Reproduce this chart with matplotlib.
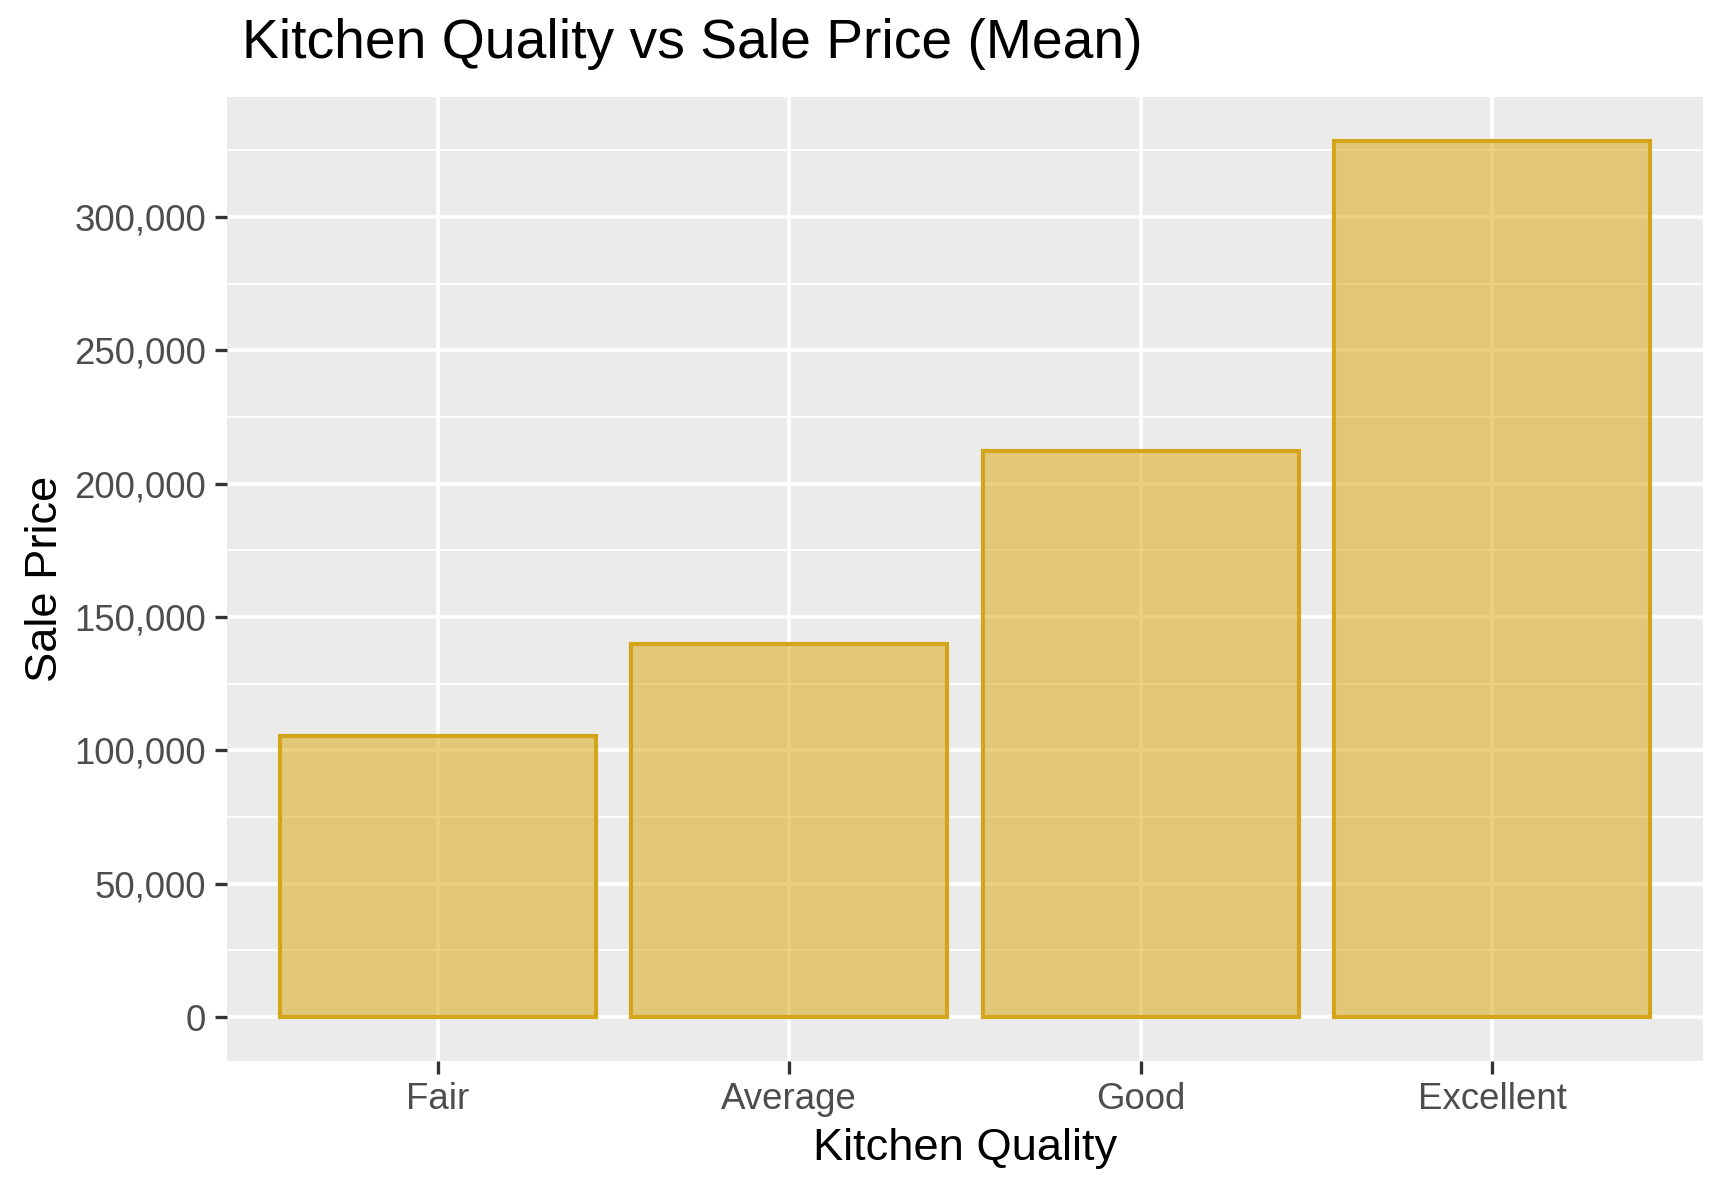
import matplotlib
matplotlib.use("Agg")
import matplotlib.pyplot as plt
from matplotlib.ticker import FuncFormatter, MultipleLocator

plt.rcParams['font.family'] = ['Liberation Sans', 'DejaVu Sans']

# mean sale price per kitchen quality
quality = ['Fair', 'Average', 'Good', 'Excellent']
mean_price = [105565, 139963, 212116, 328555]

fig = plt.figure(figsize=(8.64, 5.965), dpi=200)
ax = fig.add_axes([227 / 1728, 1 - 1061 / 1193, (1703 - 227) / 1728, (1061 - 97) / 1193])

ax.set_facecolor('#EBEBEB')
x = list(range(1, len(quality) + 1))
ax.bar(x, mean_price, width=0.9, color='#DBAB1A', alpha=0.55, edgecolor='none', zorder=3)
ax.bar(x, mean_price, width=0.9, color='none', edgecolor='#D4A51A', linewidth=1.5, zorder=4)

ymax = max(mean_price)
ax.set_ylim(-0.05 * ymax, 1.05 * ymax)
ax.set_xlim(0.4, 4.6)
ax.set_xticks(x)
ax.set_xticklabels(quality)
ax.yaxis.set_major_locator(MultipleLocator(50000))
ax.yaxis.set_minor_locator(MultipleLocator(25000))
ax.yaxis.set_major_formatter(FuncFormatter(lambda v, p: f'{int(v):,}'))

ax.grid(which='major', color='white', linewidth=1.3, zorder=0)
ax.grid(which='minor', axis='y', color='white', linewidth=0.65, zorder=0)
ax.set_axisbelow(True)
for s in ax.spines.values():
    s.set_visible(False)
ax.tick_params(which='major', length=4.5, width=1.2, color='#333333', labelcolor='#4D4D4D', labelsize=13.2, pad=3)
ax.tick_params(which='minor', length=0)

ax.set_xlabel('Kitchen Quality', fontsize=16.3, labelpad=4)
ax.set_ylabel('Sale Price', fontsize=16.3, labelpad=3)
ax.set_title('Kitchen Quality vs Sale Price (Mean)', fontsize=19.9, loc='left', pad=14, x=0.01)

fig.savefig('out.png', dpi=200)
